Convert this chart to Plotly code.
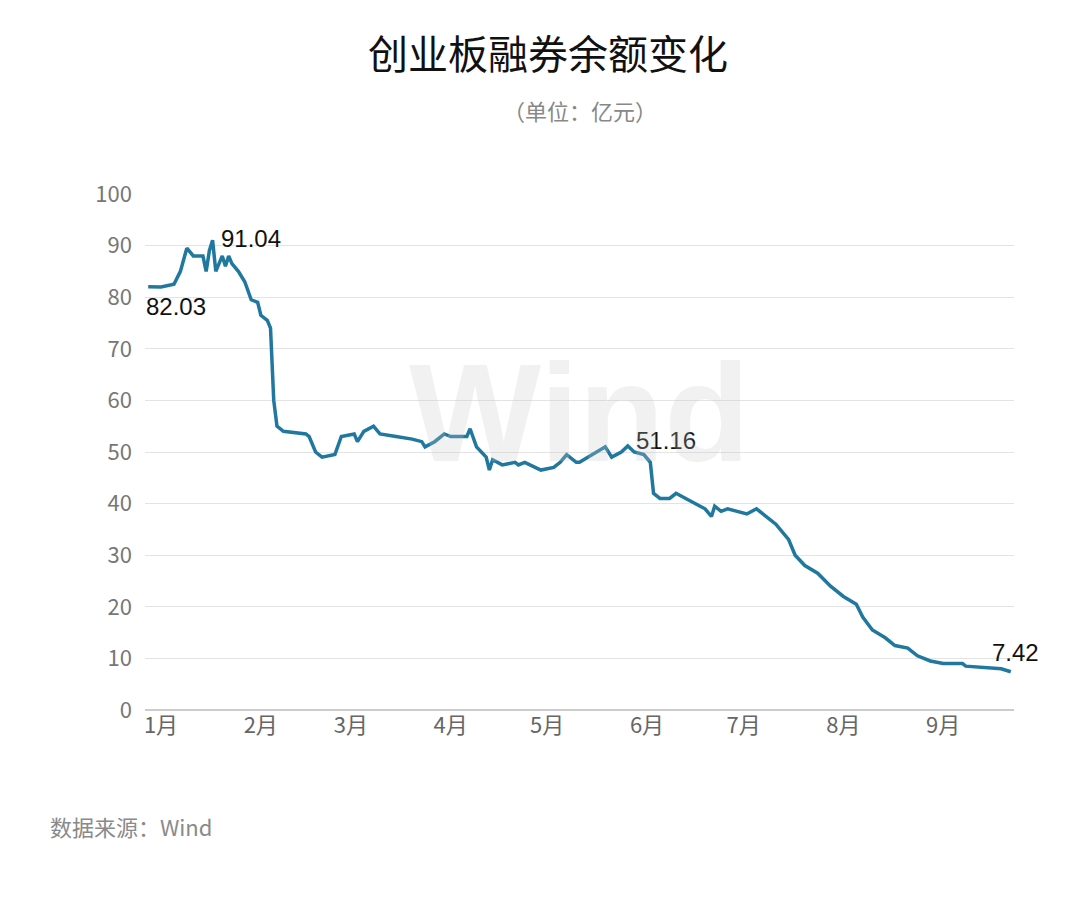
import plotly.graph_objects as go

# 创业板融券余额 (亿元)
dates = [
    "2022-01-02", "2022-01-06", "2022-01-10", "2022-01-12", "2022-01-14", "2022-01-16",
    "2022-01-19", "2022-01-20", "2022-01-21", "2022-01-22", "2022-01-23", "2022-01-25",
    "2022-01-26", "2022-01-27", "2022-01-28", "2022-01-30", "2022-02-01", "2022-02-03",
    "2022-02-05", "2022-02-06", "2022-02-08", "2022-02-09", "2022-02-10", "2022-02-11",
    "2022-02-13", "2022-02-20", "2022-02-21", "2022-02-23", "2022-02-25", "2022-03-01",
    "2022-03-03", "2022-03-07", "2022-03-08", "2022-03-10", "2022-03-13", "2022-03-15",
    "2022-03-20", "2022-03-25", "2022-03-28", "2022-03-29", "2022-04-01", "2022-04-04",
    "2022-04-06", "2022-04-11", "2022-04-12", "2022-04-14", "2022-04-17", "2022-04-18",
    "2022-04-19", "2022-04-22", "2022-04-26", "2022-04-27", "2022-04-29", "2022-05-04",
    "2022-05-08", "2022-05-10", "2022-05-12", "2022-05-15", "2022-05-16", "2022-05-20",
    "2022-05-23", "2022-05-24", "2022-05-26", "2022-05-29", "2022-05-31", "2022-06-02",
    "2022-06-05", "2022-06-07", "2022-06-08", "2022-06-10", "2022-06-13", "2022-06-15",
    "2022-06-18", "2022-06-21", "2022-06-24", "2022-06-26", "2022-06-27", "2022-06-29",
    "2022-07-01", "2022-07-04", "2022-07-07", "2022-07-10", "2022-07-14", "2022-07-16",
    "2022-07-20", "2022-07-22", "2022-07-25", "2022-07-29", "2022-08-02", "2022-08-06",
    "2022-08-10", "2022-08-12", "2022-08-15", "2022-08-19", "2022-08-22", "2022-08-26",
    "2022-08-29", "2022-09-02", "2022-09-06", "2022-09-12", "2022-09-13", "2022-09-19",
    "2022-09-24", "2022-09-27",
]
balance = [
    82.03, 82.0, 82.5, 85.0, 89.5, 88.0,
    88.0, 85.0, 89.0, 91.04, 85.0, 88.0,
    86.0, 88.0, 86.5, 85.0, 83.0, 79.5,
    79.0, 76.5, 75.5, 74.0, 60.0, 55.0,
    54.0, 53.5, 53.0, 50.0, 49.0, 49.5,
    53.0, 53.5, 52.0, 54.0, 55.0, 53.5,
    53.0, 52.5, 52.0, 51.0, 52.0, 53.5,
    53.0, 53.0, 54.5, 51.0, 49.0, 46.5,
    48.5, 47.5, 48.0, 47.5, 48.0, 46.5,
    47.0, 48.0, 49.5, 48.0, 48.0, 49.5,
    50.5, 51.0, 49.0, 50.0, 51.16, 50.0,
    49.5, 48.0, 42.0, 41.0, 41.0, 42.0,
    41.0, 40.0, 39.0, 37.5, 39.5, 38.5,
    39.0, 38.5, 38.0, 39.0, 37.0, 36.0,
    33.0, 30.0, 28.0, 26.5, 24.0, 22.0,
    20.5, 18.0, 15.5, 14.0, 12.5, 12.0,
    10.5, 9.5, 9.0, 9.0, 8.5, 8.3,
    8.0, 7.42,
]

month_ticks = ["2022-01-01", "2022-02-01", "2022-03-01", "2022-04-01", "2022-05-01",
               "2022-06-01", "2022-07-01", "2022-08-01", "2022-09-01"]
month_labels = ["1月", "2月", "3月", "4月", "5月", "6月", "7月", "8月", "9月"]

# labelled points: (date, value, text, xanchor, yanchor, xshift, yshift)
callouts = [
    ("2022-01-02", 82.03, "82.03", "left", "top", -4, -4),
    ("2022-01-22", 91.04, "91.04", "left", "bottom", 6, -14),
    ("2022-05-31", 51.16, "51.16", "left", "bottom", 6, -10),
    ("2022-09-27", 7.42, "7.42", "right", "bottom", 30, 4),
]

fig = go.Figure()
fig.add_trace(go.Scatter(
    x=dates, y=balance, mode="lines",
    line=dict(color="#20789f", width=3.5),
    hoverinfo="skip",
))

for d, v, t, xa, ya, xs, ys in callouts:
    fig.add_annotation(x=d, y=v, text=t, showarrow=False, xanchor=xa, yanchor=ya,
                       xshift=xs, yshift=ys,
                       font=dict(size=24, color="#111111", family="Liberation Sans, Arial"))

fig.update_layout(
    width=1080, height=906,
    paper_bgcolor="white", plot_bgcolor="white",
    margin=dict(l=137, r=74, t=186, b=204),
    showlegend=False,
    font=dict(family="Noto Sans CJK SC, Noto Sans, sans-serif"),
    title=dict(text="创业板融券余额变化", x=0.5, xanchor="center", y=0.948, yanchor="middle",
               font=dict(size=40, color="#111111")),
    xaxis=dict(
        type="date", range=["2022-01-01", "2022-09-28"],
        tickvals=month_ticks, ticktext=month_labels, ticklabelshift=16,
        showgrid=False, showline=False, zeroline=False, ticks="",
        tickfont=dict(size=22, color="#666666"),
    ),
    yaxis=dict(
        range=[0, 100], dtick=10, showgrid=True, gridcolor="#e3e3e3",
        zeroline=True, zerolinecolor="#cccccc", ticks="",
        tickfont=dict(size=22, color="#777777"), ticklabelstandoff=12,
    ),
)

fig.add_annotation(xref="paper", yref="paper", x=0.5, y=1.0, yshift=84, yanchor="middle",
                   text="（单位：亿元）", showarrow=False,
                   font=dict(size=22, color="#888888"))
fig.add_annotation(xref="paper", yref="paper", x=0.5, y=0.5, yshift=40,
                   text="<b>Wind</b>", showarrow=False,
                   font=dict(size=140, color="rgba(200,200,200,0.25)", family="Arial"))
fig.add_annotation(xref="paper", yref="paper", x=-0.112, y=0, yshift=-134,
                   xanchor="left", text="数据来源：Wind", showarrow=False,
                   font=dict(size=22, color="#8a8a8a"))

fig.write_html("out.html")
